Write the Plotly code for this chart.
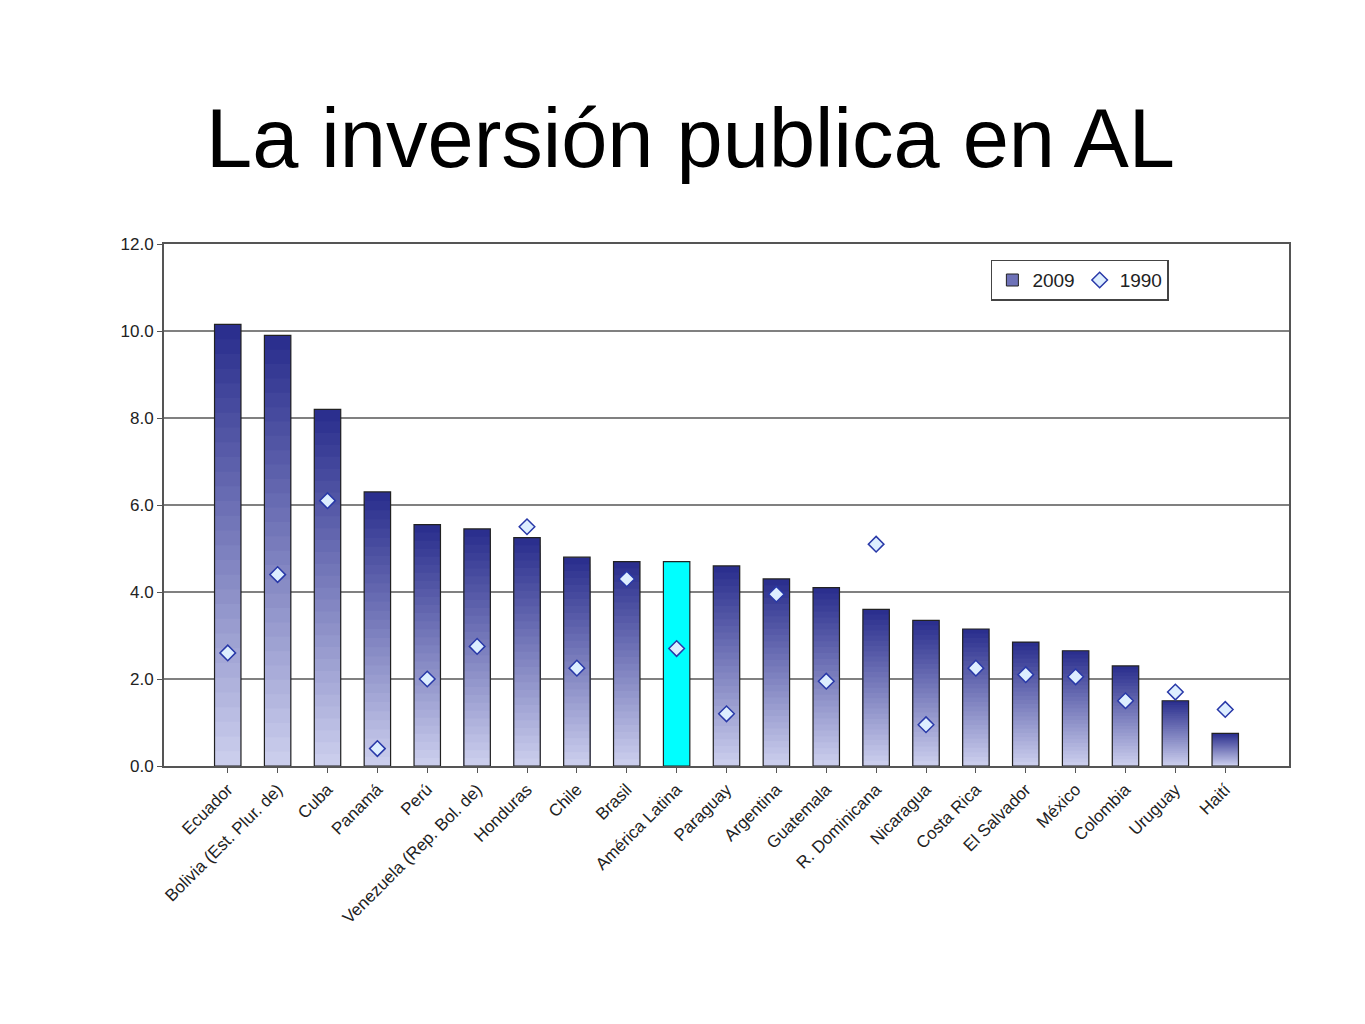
import plotly.graph_objects as go

countries = ["Ecuador", "Bolivia (Est. Plur. de)", "Cuba", "Panamá", "Perú",
             "Venezuela (Rep. Bol. de)", "Honduras", "Chile", "Brasil", "América Latina",
             "Paraguay", "Argentina", "Guatemala", "R. Dominicana", "Nicaragua",
             "Costa Rica", "El Salvador", "México", "Colombia", "Uruguay", "Haití"]
inv_2009 = [10.15, 9.9, 8.2, 6.3, 5.55, 5.45, 5.25, 4.8, 4.7, 4.7, 4.6, 4.3, 4.1,
            3.6, 3.35, 3.15, 2.85, 2.65, 2.3, 1.5, 0.75]
inv_1990 = [2.6, 4.4, 6.1, 0.4, 2.0, 2.75, 5.5, 2.25, 4.3, 2.7, 1.2, 3.95, 1.95,
            5.1, 0.95, 2.25, 2.1, 2.05, 1.5, 1.7, 1.3]
highlight = "América Latina"

N_STEPS = 30
top_rgb = (40, 44, 140)
bot_rgb = (205, 208, 238)

fig = go.Figure()

# gradient fill: overlapping bars, full height dark first, shorter lighter ones on top
for k in range(N_STEPS):
    frac = (N_STEPS - k) / N_STEPS
    t = (N_STEPS - k - 0.5) / N_STEPS
    c = tuple(round(b + (tp - b) * t) for b, tp in zip(bot_rgb, top_rgb))
    colors = ["#00FFFF" if n == highlight else "rgb(%d,%d,%d)" % c for n in countries]
    fig.add_trace(go.Bar(
        x=countries, y=[v * frac for v in inv_2009],
        marker=dict(color=colors, line=dict(width=0)),
        showlegend=False, hoverinfo="skip"))

# outline
fig.add_trace(go.Bar(
    x=countries, y=inv_2009,
    marker=dict(color="rgba(0,0,0,0)", line=dict(color="#222222", width=1.2)),
    showlegend=False))

# legend entry for 2009
fig.add_trace(go.Bar(
    x=[countries[0]], y=[None], name="2009",
    marker=dict(color="#6E72B8", line=dict(color="#222222", width=1))))

fig.add_trace(go.Scatter(
    x=countries, y=inv_1990, mode="markers", name="1990",
    marker=dict(symbol="diamond", size=12, color="#DDEEFF",
                line=dict(color="#2838A8", width=1.5))))

fig.update_layout(
    width=1365, height=1024,
    barmode="overlay", bargap=0.47,
    paper_bgcolor="white", plot_bgcolor="white",
    margin=dict(l=156, r=84, t=236, b=266),
    title=dict(text="La inversión publica en AL", x=0.5, xanchor="center",
               y=0.873, yanchor="middle",
               font=dict(family="Liberation Sans, Arial", size=83, color="black")),
    font=dict(family="Liberation Sans, Arial", size=17, color="#222222"),
    legend=dict(orientation="h", x=0.735, y=0.97, xanchor="left", yanchor="top",
                bgcolor="white", bordercolor="#444444", borderwidth=1.5,
                font=dict(size=19)),
    showlegend=True,
)
fig.update_xaxes(tickangle=-45, showline=True, linecolor="#555555", linewidth=2,
                 mirror=True, ticks="outside", tickcolor="#555555", ticklen=5)
fig.update_yaxes(range=[0, 12], dtick=2, tickformat=".1f", showgrid=True,
                 gridcolor="#808080", gridwidth=2, showline=True,
                 linecolor="#555555", linewidth=2, mirror=True,
                 ticks="outside", tickcolor="#555555", ticklen=5,
                 tickfont=dict(size=17))

fig.write_html("out.html")
